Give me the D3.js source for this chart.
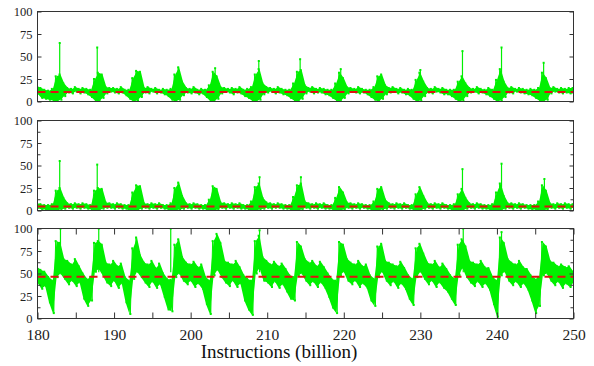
<!DOCTYPE html>
<html>
<head>
<meta charset="utf-8">
<script src="https://cdn.jsdelivr.net/npm/d3@7/dist/d3.min.js"></script>
<style>
  body { margin: 0; background: #fff; }
  svg { display: block; }
</style>
</head>
<body>
<div id="chart"></div>
<script>
// trace is sampled every half billion instructions, each sample keeps min and max
var instrStart = 180, instrStep = 0.5;
var xTicks = [180, 185, 190, 195, 200, 205, 210, 215, 220, 225, 230, 235, 240, 245, 250];
var xLabels = [180, 190, 200, 210, 220, 230, 240, 250];
var yLabels = [0, 25, 50, 75, 100];
var yMinor = [12.5, 37.5, 62.5, 87.5];
var xTitle = "Instructions (billion)";

// top panel
var meanA = 10.5;
var loA = [9,4,3,2,1,0,2,6,10,9, 11,9,10,8,5,1,0,4,9,11, 10,9,10,7,3,0,1,5,10,9,
  11,9,10,8,6,2,0,2,7,10, 9,10,8,9,5,1,0,3,9,11, 10,8,10,9,6,4,1,0,2,8,
  10,11,9,10,8,7,4,1,0,3, 9,11,9,10,10,8,7,4,1,0, 4,9,11,10,9,10,8,5,2,0,
  3,8,10,11,9,10,8,7,3,0, 1,6,10,9,11,10,8,8,6,3, 0,1,6,10,11,9,10,8,6,3,
  0,1,5,10,9,11,10,9,8,7, 4,1,0,2,9,11,10,9,10,9,9];
var hiA = [17,15,13,12,14,28,30,20,15,14, 16,14,15,14,13,25,32,30,16,15, 15,14,16,13,13,26,34,33,15,16,
  14,15,13,14,13,14,30,38,22,15, 14,16,13,14,13,18,33,28,16,15, 14,15,14,16,13,14,16,30,36,20,
  16,15,14,16,14,13,13,20,33,35, 18,15,16,14,15,14,13,13,20,32, 26,16,15,14,16,14,13,13,16,28,
  30,18,15,16,14,15,13,14,13,24, 32,22,15,14,16,14,15,13,13,13, 22,28,20,15,14,16,14,13,15,13,
  24,36,22,15,16,14,15,14,13,14, 13,15,32,26,15,16,14,15,14,15,15];
var spikeXA = [182.9, 187.8, 203.2, 208.9, 214.3, 219.6, 230.0, 235.5, 240.6, 246.1];
var spikeYA = [65, 60, 37, 45, 47, 36, 35, 56, 60, 43];

// middle panel
var meanB = 4.5;
var loB = [3,1,1,0,0,0,1,2,3,2, 3,2,3,2,1,0,0,2,3,3, 2,3,2,2,0,0,0,2,3,2,
  3,2,3,2,1,0,0,1,2,3, 2,3,2,2,1,0,0,1,3,2, 3,2,3,2,2,1,0,0,1,2,
  3,2,3,3,2,2,1,0,0,1, 3,2,3,2,3,2,2,1,0,0, 1,3,2,3,2,3,2,1,0,0,
  1,2,3,2,3,2,3,2,1,0, 0,2,3,2,3,2,3,2,1,0, 0,0,2,3,2,3,2,2,1,0,
  0,0,2,3,2,3,2,3,2,1, 1,0,0,1,3,2,3,2,3,2,3];
var hiB = [8,7,6,6,7,22,25,14,8,7, 8,7,8,7,6,22,25,24,9,8, 7,8,7,6,6,20,28,27,8,7,
  8,7,8,6,6,8,25,31,16,8, 7,8,7,6,6,12,27,24,9,8, 7,8,7,8,6,6,10,26,30,14,
  9,8,7,8,7,6,6,15,28,30, 10,8,7,8,7,8,6,6,14,26, 20,9,8,7,8,7,6,6,10,24,
  26,12,8,7,8,7,8,6,6,18, 26,16,8,7,8,7,8,6,6,7, 18,24,14,8,7,8,7,6,6,7,
  20,30,16,8,8,7,8,7,6,6, 6,10,28,22,8,7,8,7,8,7,7];
var spikeXB = [182.9, 187.8, 209.0, 214.4, 235.5, 240.6, 246.2];
var spikeYB = [55, 51, 37, 37, 46, 52, 35];

// bottom panel
var meanC = 46.5;
var loC = [40,33,36,18,6,46,50,44,38,42, 36,40,22,14,20,52,55,48,40,36, 42,34,39,18,5,44,52,46,40,35,
  41,34,38,24,10,8,46,50,42,38, 42,35,39,33,16,5,48,54,46,40, 36,42,35,39,20,10,4,50,56,42,
  40,35,41,34,38,30,22,20,48,50, 42,37,41,35,40,34,24,12,6,48, 52,42,38,42,35,39,34,20,14,46,
  52,42,37,41,34,39,33,22,15,46, 52,44,38,42,35,40,34,30,22,15, 48,56,46,40,36,41,35,39,32,16,
  2,48,52,42,37,41,35,39,32,20, 6,14,48,50,42,37,41,34,39,35,40];
var hiC = [57,54,52,46,42,86,84,66,64,60, 66,58,50,44,46,84,86,82,62,60, 64,58,61,46,42,78,90,70,62,60,
  64,56,61,50,44,43,82,88,68,62, 60,63,57,60,46,42,86,94,84,64, 62,60,64,57,48,44,42,86,92,68,
  64,60,63,58,61,55,48,46,85,80, 66,62,64,58,63,57,50,44,42,85, 82,66,62,60,64,58,60,48,44,80,
  83,64,62,60,58,63,56,48,44,78, 83,72,62,60,64,57,61,55,48,44, 82,88,80,64,62,60,64,57,56,46,
  42,90,84,66,62,60,64,57,55,48, 44,46,85,80,64,62,58,60,57,58,52];
var spikeXC = [183.0, 188.0, 197.4, 209.0, 235.6, 240.6];
var spikeYC = [100, 100, 100, 98, 100, 96];

var panels = [
  { lo: loA, hi: hiA, mean: meanA, sx: spikeXA, sy: spikeYA, top: 11.5, minor: false, xAxis: false },
  { lo: loB, hi: hiB, mean: meanB, sx: spikeXB, sy: spikeYB, top: 120.5, minor: true, xAxis: false },
  { lo: loC, hi: hiC, mean: meanC, sx: spikeXC, sy: spikeYC, top: 228.5, minor: true, xAxis: true }
];

var serif = "'Liberation Serif', 'Times New Roman', serif";

// set the dimensions and margins of the graph
var margin = { left: 37.5 },
  width = 536,
  panelH = 90;

var svg = d3.select("#chart").append("svg")
  .attr("width", 594)
  .attr("height", 366)
  .style("font-family", serif);

// set the ranges
var x = d3.scaleLinear().domain([180, 250]).range([0, width]);
var y = d3.scaleLinear().domain([0, 100]).range([panelH, 0]);

var green = "#00f000";

panels.forEach(function (p, k) {
  var g = svg.append("g")
    .attr("transform", "translate(" + margin.left + "," + p.top + ")");

  g.append("clipPath").attr("id", "clip" + k)
    .append("rect").attr("width", width).attr("height", panelH);

  var plot = g.append("g").attr("clip-path", "url(#clip" + k + ")");

  var n = Math.min(p.lo.length, p.hi.length);
  var idx = d3.range(n);
  var xAt = function (i) { return x(instrStart + i * instrStep); };

  // band between min and max of each sample
  var band = d3.area()
    .x(function (i) { return xAt(i); })
    .y0(function (i) { return y(p.lo[i]); })
    .y1(function (i) { return y(p.hi[i]); });

  plot.append("path")
    .datum(idx)
    .attr("fill", green)
    .attr("d", band);

  // zigzag through max and min of every sample for the ragged look
  var pts = [];
  idx.forEach(function (i) {
    var xi = instrStart + i * instrStep;
    pts.push([xi - instrStep / 4, p.hi[i]]);
    pts.push([xi + instrStep / 4, p.lo[i]]);
  });

  var trace = d3.line()
    .x(function (d) { return x(d[0]); })
    .y(function (d) { return y(d[1]); });

  plot.append("path")
    .datum(pts)
    .attr("fill", "none")
    .attr("stroke", green)
    .attr("stroke-width", 1)
    .attr("d", trace);

  plot.selectAll(".pt")
    .data(pts)
    .enter().append("rect")
    .attr("x", function (d) { return x(d[0]) - 1; })
    .attr("y", function (d) { return y(d[1]) - 1; })
    .attr("width", 2).attr("height", 2)
    .attr("fill", green);

  // single tall spikes
  var spikes = p.sx.map(function (v, j) { return [v, p.sy[j]]; });
  plot.selectAll(".spike")
    .data(spikes)
    .enter().append("line")
    .attr("x1", function (d) { return x(d[0]); })
    .attr("x2", function (d) { return x(d[0]); })
    .attr("y1", y(p.mean + 5))
    .attr("y2", function (d) { return y(d[1]); })
    .attr("stroke", green)
    .attr("stroke-width", 1.2);
  plot.selectAll(".spiketop")
    .data(spikes)
    .enter().append("rect")
    .attr("x", function (d) { return x(d[0]) - 1; })
    .attr("y", function (d) { return y(d[1]) - 1; })
    .attr("width", 2).attr("height", 2)
    .attr("fill", green);

  // average, dashed red
  plot.append("line")
    .attr("x1", 0).attr("x2", width)
    .attr("y1", y(p.mean)).attr("y2", y(p.mean))
    .attr("stroke", "#e01010")
    .attr("stroke-width", 2)
    .attr("stroke-dasharray", "8,5");

  // Add the Y Axis (labels + inward ticks)
  g.append("g")
    .call(d3.axisLeft(y).tickValues(yLabels).tickSizeInner(-4).tickSizeOuter(0).tickPadding(5))
    .selectAll("text").style("font-size", "12.5px");
  g.append("g")
    .attr("transform", "translate(" + width + ",0)")
    .call(d3.axisRight(y).tickValues(yLabels).tickSizeInner(-4).tickSizeOuter(0).tickFormat(""));
  if (p.minor) {
    g.append("g")
      .call(d3.axisLeft(y).tickValues(yMinor).tickSizeInner(-3).tickSizeOuter(0).tickFormat(""));
    g.append("g")
      .attr("transform", "translate(" + width + ",0)")
      .call(d3.axisRight(y).tickValues(yMinor).tickSizeInner(-3).tickSizeOuter(0).tickFormat(""));
  }

  // Add the X Axis on the bottom panel only
  if (p.xAxis) {
    g.append("g")
      .attr("transform", "translate(0," + panelH + ")")
      .call(d3.axisBottom(x).tickValues(xTicks).tickSizeInner(-6).tickSizeOuter(0).tickPadding(10)
        .tickFormat(function (d) { return xLabels.indexOf(d) >= 0 ? d : ""; }))
      .selectAll("text").style("font-size", "15.5px");
    g.append("g")
      .call(d3.axisTop(x).tickValues(xTicks).tickSizeInner(-6).tickSizeOuter(0).tickFormat(""));
  }

  g.selectAll(".domain").remove();
  g.selectAll(".tick line").attr("stroke", "#333");
  g.selectAll(".tick text").attr("fill", "#222").style("font-family", serif);

  // frame
  g.append("rect")
    .attr("width", width).attr("height", panelH)
    .attr("fill", "none")
    .attr("stroke", "#333")
    .attr("stroke-width", 1);
});

svg.append("text")
  .attr("x", 279)
  .attr("y", 358)
  .attr("text-anchor", "middle")
  .attr("fill", "#111")
  .style("font-family", serif)
  .style("font-size", "19px")
  .text(xTitle);
</script>
</body>
</html>
